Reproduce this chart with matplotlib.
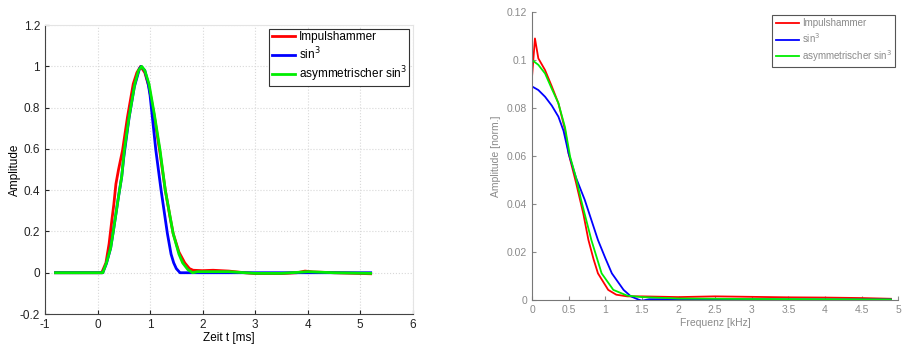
import matplotlib.pyplot as plt
import numpy as np

plt.rcParams['font.family'] = ['Liberation Sans', 'DejaVu Sans']
plt.rcParams['axes.unicode_minus'] = False

# --- Zeitbereich (links) ---
t_hammer = [-0.8, 0.0, 0.08, 0.16, 0.22, 0.28, 0.31, 0.35, 0.40, 0.477, 0.57, 0.68, 0.75, 0.82,
            0.9, 0.98, 1.08, 1.19, 1.29, 1.38, 1.44, 1.55, 1.66, 1.75, 1.82, 2.0, 2.2, 2.5,
            2.8, 3.0, 3.5, 3.8, 3.95, 4.1, 4.5, 5.2]
a_hammer = [0.0, 0.0, 0.0, 0.048, 0.14, 0.27, 0.33, 0.43, 0.5, 0.594, 0.754, 0.915, 0.97, 1.0,
            0.97, 0.9, 0.76, 0.58, 0.4, 0.27, 0.19, 0.1, 0.048, 0.02, 0.012, 0.01, 0.012, 0.008,
            0.0, -0.004, -0.004, 0.0, 0.008, 0.004, 0.0, -0.005]

t_sin3 = [-0.8, 0.0, 0.1, 0.17, 0.25, 0.3, 0.4, 0.46, 0.5, 0.6, 0.7, 0.8, 0.83, 0.9, 0.965,
          1.0, 1.11, 1.21, 1.33, 1.4, 1.45, 1.5, 1.57, 1.7, 5.2]
a_sin3 = [0.0, 0.0, 0.0, 0.045, 0.12, 0.2, 0.37, 0.465, 0.56, 0.75, 0.9, 0.99, 1.0, 0.98, 0.915,
          0.86, 0.594, 0.4, 0.19, 0.09, 0.048, 0.02, 0.0, 0.0, 0.0]

t_asym = [-0.8, 0.0, 0.1, 0.17, 0.25, 0.3, 0.4, 0.46, 0.51, 0.6, 0.71, 0.78, 0.84, 0.9, 0.98,
          1.08, 1.19, 1.29, 1.44, 1.55, 1.62, 1.72, 1.81, 1.9, 2.5, 3.0, 3.5, 4.0, 4.5, 5.2]
a_asym = [0.0, 0.0, 0.0, 0.048, 0.12, 0.2, 0.37, 0.465, 0.594, 0.754, 0.915, 0.98, 1.0, 0.98, 0.915,
          0.77, 0.594, 0.4, 0.19, 0.09, 0.048, 0.015, 0.0, 0.005, 0.005, -0.003, -0.003, 0.005, 0.0, -0.003]

# --- Frequenzbereich (rechts) ---
f_hammer = [0.0, 0.04, 0.086, 0.178, 0.27, 0.36, 0.45, 0.5, 0.6, 0.656, 0.7, 0.77, 0.84, 0.9,
            1.04, 1.15, 1.3, 1.5, 2.0, 2.5, 3.0, 3.5, 4.0, 4.5, 4.9]
s_hammer = [0.093, 0.109, 0.1007, 0.0958, 0.089, 0.082, 0.071, 0.061, 0.049, 0.0417, 0.036, 0.025,
            0.017, 0.0111, 0.0042, 0.0022, 0.0015, 0.0015, 0.0012, 0.0015, 0.0013, 0.0011, 0.001,
            0.0008, 0.0005]

f_sin3 = [0.0, 0.086, 0.178, 0.27, 0.36, 0.43, 0.5, 0.6, 0.72, 0.9, 1.0, 1.09, 1.25, 1.35, 1.45,
          1.5, 1.6, 2.0, 3.0, 4.0, 4.9]
s_sin3 = [0.089, 0.0875, 0.0847, 0.081, 0.0764, 0.0705, 0.061, 0.051, 0.0417, 0.025, 0.0175,
          0.0111, 0.0042, 0.0015, 0.0002, -0.0003, 0.0003, 0.0003, 0.0003, 0.0002, 0.0002]

f_asym = [0.0, 0.086, 0.178, 0.27, 0.36, 0.45, 0.52, 0.6, 0.67, 0.81, 0.95, 1.11, 1.3, 1.4, 1.5,
          2.0, 3.0, 4.0, 4.9]
s_asym = [0.1, 0.098, 0.0944, 0.088, 0.082, 0.072, 0.0597, 0.051, 0.0417, 0.025, 0.0111, 0.0042,
          0.0018, 0.0015, 0.0012, 0.0006, 0.0004, 0.0003, 0.0002]

labels = ['Impulshammer', r'sin$^3$', r'asymmetrischer sin$^3$']
colors = ['#ff0000', '#0000ff', '#00ee00']

fig = plt.figure(figsize=(9.11, 3.44), dpi=100)
ax1 = fig.add_axes([0.0494, 0.0872, 0.4036, 0.8398])
ax2 = fig.add_axes([0.584, 0.128, 0.402, 0.837])

# linker Plot
ax1.plot(t_hammer, a_hammer, color=colors[0], lw=2, label=labels[0])
ax1.plot(t_sin3, a_sin3, color=colors[1], lw=2, label=labels[1])
ax1.plot(t_asym, a_asym, color=colors[2], lw=2, label=labels[2])
ax1.set_xlim(-1, 6)
ax1.set_ylim(-0.2, 1.2)
ax1.set_xticks(np.arange(-1, 7, 1))
ax1.set_yticks(np.arange(-0.2, 1.21, 0.2))
ax1.set_yticklabels(['-0.2', '0', '0.2', '0.4', '0.6', '0.8', '1', '1.2'])
ax1.grid(True, color='#d8d8d8', linestyle=':', linewidth=0.8)
ax1.tick_params(direction='in', labelsize=8.5, colors='#222222', length=3)
for s in ['top', 'right']:
    ax1.spines[s].set_color('#e4e4e4')
for s in ['left', 'bottom']:
    ax1.spines[s].set_color('#444444')
ax1.set_xlabel('Zeit t [ms]', fontsize=8.5, labelpad=1)
ax1.set_ylabel('Amplitude', fontsize=8.5, labelpad=-1)
leg1 = ax1.legend(loc='upper right', fontsize=8.5, handlelength=2.0, borderaxespad=0.3,
                  fancybox=False, framealpha=1, borderpad=0.2, labelspacing=0.2, handletextpad=0.3)
leg1.get_frame().set_edgecolor('#333333')
leg1.get_frame().set_linewidth(0.8)

# rechter Plot
gray = '#8a8a8a'
ax2.plot(f_hammer, s_hammer, color=colors[0], lw=1.3, label=labels[0])
ax2.plot(f_sin3, s_sin3, color=colors[1], lw=1.3, label=labels[1])
ax2.plot(f_asym, s_asym, color=colors[2], lw=1.3, label=labels[2])
ax2.set_xlim(0, 5)
ax2.set_ylim(0, 0.12)
ax2.set_xticks(np.arange(0, 5.01, 0.5))
ax2.set_xticklabels(['0', '0.5', '1', '1.5', '2', '2.5', '3', '3.5', '4', '4.5', '5'])
ax2.set_yticks(np.arange(0, 0.121, 0.02))
ax2.set_yticklabels(['0', '0.02', '0.04', '0.06', '0.08', '0.1', '0.12'])
ax2.tick_params(direction='in', labelsize=7.5, colors=gray, length=3)
for s in ['top', 'right']:
    ax2.spines[s].set_visible(False)
for s in ['left', 'bottom']:
    ax2.spines[s].set_color('#777777')
ax2.set_xlabel('Frequenz [kHz]', fontsize=7.5, color=gray, labelpad=2)
ax2.set_ylabel('Amplitude [norm.]', fontsize=7.5, color=gray, labelpad=4)
leg2 = ax2.legend(loc='upper right', fontsize=7, handlelength=2.4, borderaxespad=0.3,
                  fancybox=False, framealpha=1, borderpad=0.35, labelspacing=0.3, handletextpad=0.3)
leg2.get_frame().set_edgecolor('#555555')
leg2.get_frame().set_linewidth(0.8)
for txt in leg2.get_texts():
    txt.set_color(gray)

fig.savefig('out.png', dpi=100)
